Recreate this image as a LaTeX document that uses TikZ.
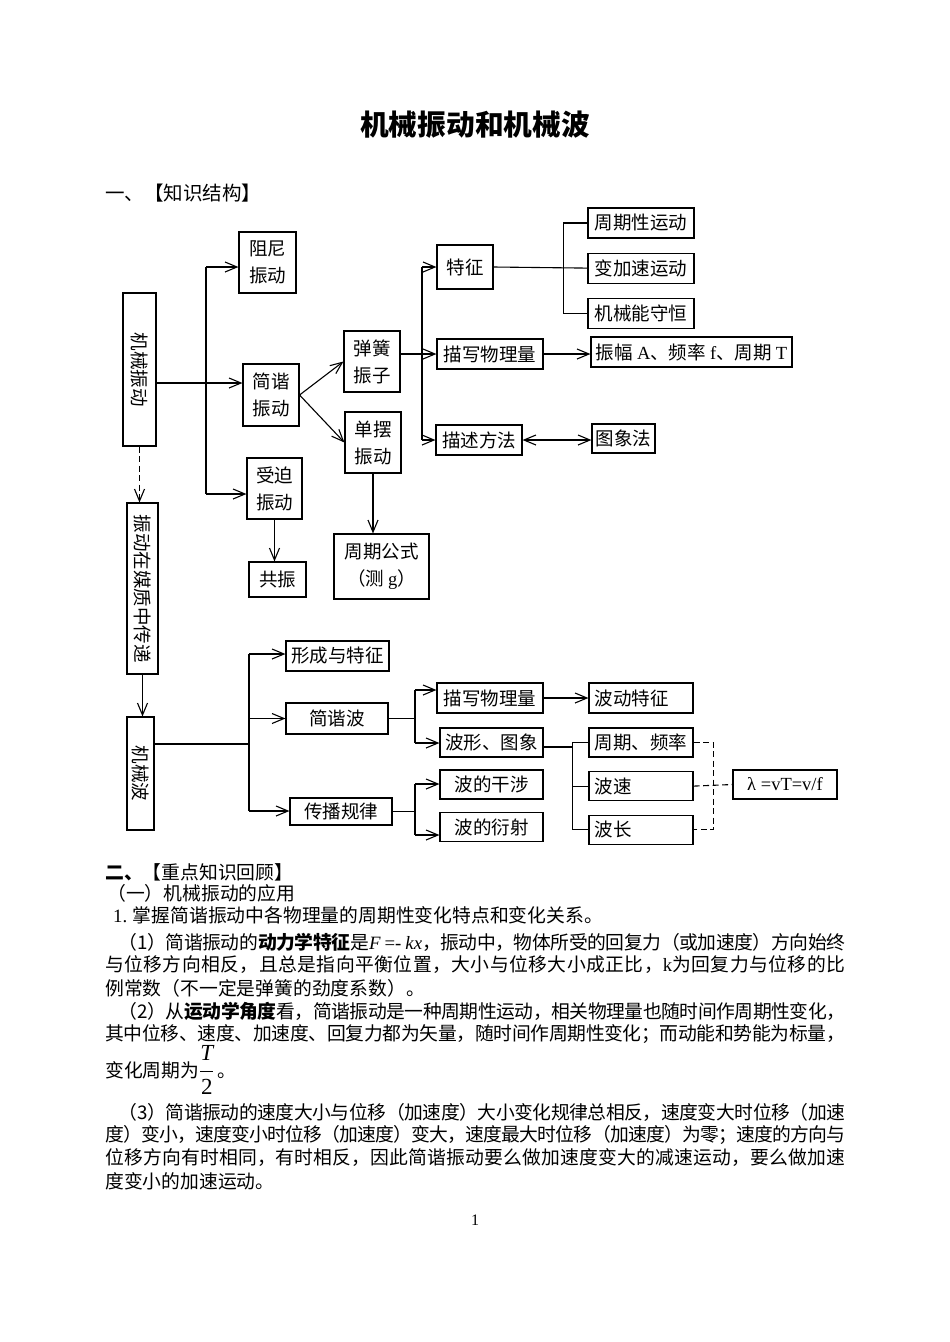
\documentclass[tikz,border=0pt]{standalone}
\usepackage{fontspec}
\setmainfont{Noto Sans CJK SC}
\newfontfamily\latin{Liberation Serif}
\usetikzlibrary{arrows.meta, positioning, calc}
\newXeTeXintercharclass\cjkcls
\newcount\cjkc
\cjkc="4E00 \loop \XeTeXcharclass\cjkc=\cjkcls \advance\cjkc by 1 \ifnum\cjkc<"A000 \repeat
\cjkc="3000 \loop \XeTeXcharclass\cjkc=\cjkcls \advance\cjkc by 1 \ifnum\cjkc<"3040 \repeat
\cjkc="FF00 \loop \XeTeXcharclass\cjkc=\cjkcls \advance\cjkc by 1 \ifnum\cjkc<"FFF0 \repeat
\XeTeXinterchartoks\cjkcls\cjkcls={\hskip 0pt plus 4pt minus 2pt\relax}
\tikzset{
    box/.style={draw, line width=1.1pt, inner sep=2pt, align=center,
                font=\fontsize{18.5}{27}\selectfont},
    lbox/.style={box, text width=#1, align=left, inner xsep=5.5pt},
    vbox/.style={box, rotate=-90},
    arrow/.style={-{Straight Barb[length=12pt, width=10pt]}, line width=1.1pt},
    both/.style={{Straight Barb[length=12pt, width=10pt]}-{Straight Barb[length=12pt, width=10pt]}, line width=1.1pt},
    link/.style={line width=1.1pt},
    dlink/.style={line width=1.1pt, dash pattern=on 6pt off 3.5pt},
    txt/.style={anchor=west, inner sep=0pt, font=\fontsize{18.8}{23}\selectfont},
}
\newcommand{\jline}[2]{{\XeTeXinterchartokenstate=1 \makebox[#1][s]{#2}}}

\begin{document}
\begin{tikzpicture}[x=1pt, y=-1pt]
    \useasboundingbox (0,0) rectangle (950,1342);
    \node[font=\fontsize{28.7}{30}\selectfont\bfseries] (title) at (475,125) {机械振动和机械波};
    \node[txt, font=\fontsize{19.5}{23}\selectfont] (head1) at (105,193) {一、【知识结构】};
    % vibration part
    \node[vbox, minimum width=153pt, minimum height=33pt] (vib) at (139.5,369.5) {机械振动};
    \node[box, minimum width=57pt, minimum height=61pt] (damp) at (267.5,262.5) {阻尼\\振动};
    \node[box, minimum width=56pt, minimum height=62pt] (shm) at (271,395) {简谐\\振动};
    \node[box, minimum width=55pt, minimum height=61pt] (forced) at (274.5,488.5) {受迫\\振动};
    \node[box, minimum width=57pt, minimum height=35pt] (reson) at (277.5,579.5) {共振};
    \node[box, minimum width=56pt, minimum height=61pt] (spring) at (372,361.5) {弹簧\\振子};
    \node[box, minimum width=56pt, minimum height=61pt] (pend) at (373,442.5) {单摆\\振动};
    \node[box, minimum width=95pt, minimum height=65pt] (formula) at (381.5,566.5) {周期公式\\（测 {\latin g}）};
    \node[box, minimum width=56pt, minimum height=44pt] (feat) at (465,267) {特征};
    \node[box, minimum width=106pt, minimum height=30pt] (quant) at (490,354) {描写物理量};
    \node[box, minimum width=86pt, minimum height=30pt] (method) at (479,440) {描述方法};
    \node[box, minimum width=106pt, minimum height=30pt] (per) at (641,223) {周期性运动};
    \node[box, minimum width=106pt, minimum height=30pt, below=14pt of per] (varacc) {变加速运动};
    \node[box, minimum width=106pt, minimum height=30pt, below=14pt of varacc] (energy) {机械能守恒};
    \node[box, minimum width=201pt, minimum height=30pt] (amp) at (691.5,352) {振幅 {\latin A}、频率 {\latin f}、周期 {\latin T}};
    \node[box, minimum width=63pt, minimum height=29pt] (graph) at (623.5,438.5) {图象法};
    % wave part
    \node[vbox, minimum width=171pt, minimum height=31pt] (media) at (142.5,588.5) {振动在媒质中传递};
    \node[vbox, minimum width=113pt, minimum height=27pt] (wave) at (140.5,773.5) {机械波};
    \node[box, minimum width=103pt, minimum height=30pt] (form) at (337.5,656) {形成与特征};
    \node[box, minimum width=102pt, minimum height=31pt] (shw) at (337,718.5) {简谐波};
    \node[box, minimum width=102pt, minimum height=27pt] (prop) at (341,811.5) {传播规律};
    \node[box, minimum width=106pt, minimum height=30pt] (wquant) at (490,698) {描写物理量};
    \node[box, minimum width=103pt, minimum height=29pt] (wform) at (491.5,742.5) {波形、图象};
    \node[box, minimum width=103pt, minimum height=29pt] (interf) at (491.5,784.5) {波的干涉};
    \node[box, minimum width=103pt, minimum height=29pt] (diffr) at (491.5,827) {波的衍射};
    \node[lbox=93pt, minimum height=30pt] (wfeat) at (641,698) {波动特征};
    \node[lbox=93pt, minimum height=29pt] (period) at (641,742.5) {周期、频率};
    \node[lbox=93pt, minimum height=29pt, below=13.5pt of period] (speed) {波速};
    \node[lbox=93pt, minimum height=29pt, below=13.5pt of speed] (wlen) {波长};
    \node[box, minimum width=104pt, minimum height=29pt, font=\latin\fontsize{18.5}{22}\selectfont] (lam) at (785,784.5) {λ =vT=v/f};

    \coordinate (t1) at (206,267);
    \coordinate (t2) at (206,494);
    \coordinate (tj) at (206,383);
    \draw[link] (t1) -- (t2);
    \draw[arrow] (t1) -- (t1 -| damp.west);
    \draw[arrow] (t2) -- (t2 -| forced.west);
    \draw[arrow] (vib.north |- tj) -- (tj -| shm.west);
    \draw[arrow] (shm.east) -- (spring.west);
    \draw[arrow] (shm.east) -- (pend.west);
    \coordinate (u1) at (422,267);
    \coordinate (u2) at (422,440);
    \draw[link] (u1) -- (u2);
    \draw[arrow] (u1) -- (u1 -| feat.west);
    \draw[arrow] (spring.east |- quant.west) -- (quant.west);
    \draw[arrow] (u2) -- (u2 -| method.west);
    \draw[link] (feat.east) -- (varacc.west);
    \draw[link] (per.west) -- ++(-24,0) |- (energy.west);
    \draw[arrow] (quant.east) -- (quant.east -| amp.west);
    \draw[both] (method.east) -- (method.east -| graph.west);
    \draw[arrow] (pend.south) -- (pend.south |- formula.north);
    \draw[arrow] (forced.south) -- (forced.south |- reson.north);
    \draw[arrow, dlink] (vib.east) -- (vib.east |- media.west);

    \draw[arrow] (media.east) -- (media.east |- wave.west);
    \coordinate (w1) at (249,654);
    \coordinate (w2) at (249,811);
    \coordinate (wj) at (249,744);
    \draw[link] (wave.north |- wj) -- (wj);
    \draw[link] (w1) -- (w2);
    \draw[arrow] (w1) -- (w1 -| form.west);
    \draw[arrow] (w1 |- shw.west) -- (shw.west);
    \draw[arrow] (w2) -- (w2 -| prop.west);
    \coordinate (s1) at (415,690);
    \coordinate (s2) at (415,743);
    \draw[link] (shw.east) -- (shw.east -| s1);
    \draw[link] (s1) -- (s2);
    \draw[arrow] (s1) -- (s1 -| wquant.west);
    \draw[arrow] (s2) -- (s2 -| wform.west);
    \coordinate (p1) at (415,784);
    \coordinate (p2) at (415,835);
    \draw[link] (prop.east) -- (prop.east -| p1);
    \draw[link] (p1) -- (p2);
    \draw[arrow] (p1) -- (p1 -| interf.west);
    \draw[arrow] (p2) -- (p2 -| diffr.west);
    \draw[arrow] (wquant.east) -- (wfeat.west);
    \coordinate (f1) at (573,747);
    \draw[link] (wform.east |- f1) -- (f1);
    \draw[link] (period.west) -- ++(-16,0) |- (wlen.west);
    \draw[link] (speed.west) -- ++(-16,0);
    \draw[dlink] (period.east) -- ++(20,0) |- (wlen.east);
    \draw[dlink] (speed.east) -- (lam.west);

    % review text
    \node[txt] (r1) at (105,872) {\textbf{二、}【重点知识回顾】};
    \node[txt] (r2) at (107,893) {（一）机械振动的应用};
    \node[txt] (r3) at (113,915) {{\latin 1.} 掌握简谐振动中各物理量的周期性变化特点和变化关系。};
    \node[txt] (r4) at (118,942) {\jline{727pt}{（1）简谐振动的\textbf{动力学特征}是{\latin\itshape F} {\latin =-} {\latin\itshape kx}，振动中，物体所受的回复力（或加速度）方向始终}};
    \node[txt] (r5) at (105,965) {\jline{740pt}{与位移方向相反，且总是指向平衡位置，大小与位移大小成正比，{\latin k}为回复力与位移的比}};
    \node[txt] (r6) at (105,988) {例常数（不一定是弹簧的劲度系数）。};
    \node[txt] (r7) at (118,1011) {\jline{727pt}{（2）从\textbf{运动学角度}看，简谐振动是一种周期性运动，相关物理量也随时间作周期性变化，}};
    \node[txt] (r8) at (105,1034) {\jline{740pt}{其中位移、速度、加速度、回复力都为矢量，随时间作周期性变化；而动能和势能为标量，}};
    \node[txt] (r9) at (105,1070) {变化周期为{\fontsize{23}{25}\selectfont$\displaystyle\frac{\hbox{\latin\itshape T}}{\hbox{\latin 2}}$}\,。};
    \node[txt] (r10) at (118,1112) {\jline{727pt}{（3）简谐振动的速度大小与位移（加速度）大小变化规律总相反，速度变大时位移（加速}};
    \node[txt] (r11) at (105,1135) {\jline{740pt}{度）变小，速度变小时位移（加速度）变大，速度最大时位移（加速度）为零；速度的方向与}};
    \node[txt] (r12) at (105,1158) {\jline{740pt}{位移方向有时相同，有时相反，因此简谐振动要么做加速度变大的减速运动，要么做加速}};
    \node[txt] (r13) at (105,1181) {度变小的加速运动。};
    \node[font=\latin\fontsize{16}{18}\selectfont] (pnum) at (475,1220) {1};
\end{tikzpicture}
\end{document}
